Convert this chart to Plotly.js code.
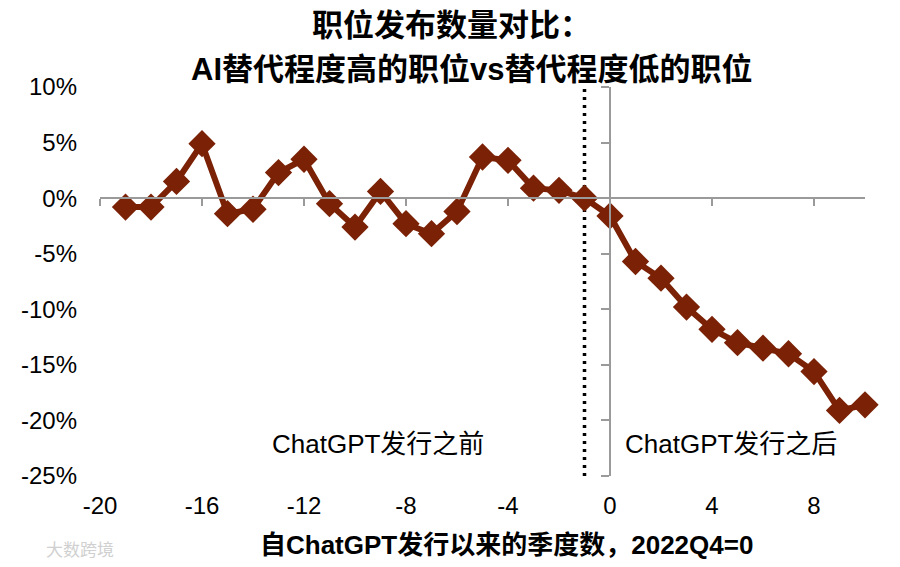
<!DOCTYPE html>
<html>
<head>
<meta charset="utf-8">
<script src="https://cdn.plot.ly/plotly-3.0.1.min.js"></script>
<style>html,body{margin:0;padding:0;background:#fff;}#chart{width:900px;height:567px;}</style>
</head>
<body>
<div id="chart"></div>
<script>
// ---- data ----
const quarters = [-19,-18,-17,-16,-15,-14,-13,-12,-11,-10,-9,-8,-7,-6,-5,-4,-3,-2,-1,0,1,2,3,4,5,6,7,8,9,10];
const postingGap = [-0.8,-0.8,1.5,4.9,-1.4,-1.0,2.3,3.5,-0.5,-2.6,0.6,-2.3,-3.2,-1.2,3.7,3.4,0.9,0.7,0.0,-1.6,-5.7,-7.2,-9.8,-11.8,-13.0,-13.5,-14.0,-15.6,-19.1,-18.6];
const xTicks = [-20,-16,-12,-8,-4,0,4,8];
const xTickLabels = ['-20','-16','-12','-8','-4','0','4','8'];
const yTicks = [-25,-20,-15,-10,-5,0,5,10];
const yTickLabels = ['-25%','-20%','-15%','-10%','-5%','0%','5%','10%'];
const xRange = [-20,10];
const yRange = [-25,10];
const dividerX = [-1,-1];
const dividerY = [-25,10];
const titleLine1 = '职位发布数量对比：';
const titleLine2 = 'AI替代程度高的职位vs替代程度低的职位';
const xTitle = '自ChatGPT发行以来的季度数，2022Q4=0';
const beforeLabel = 'ChatGPT发行之前';
const afterLabel = 'ChatGPT发行之后';
const beforePos = [-9.1, -22.1];
const afterPos = [4.75, -22.1];

const FONT = 'Liberation Sans, Arial, Noto Sans CJK SC, sans-serif';
const LINE = '#7a2106';
const AX = '#9a9a9a';

const traces = [
  {x: dividerX, y: dividerY, mode: 'lines', type: 'scatter',
   line: {color: '#000', width: 3.5, dash: '3px,5px'}, hoverinfo: 'skip', showlegend: false},
  {x: quarters, y: postingGap, mode: 'lines+markers', type: 'scatter',
   line: {color: LINE, width: 6}, marker: {symbol: 'diamond', size: 21, color: LINE},
   cliponaxis: false, showlegend: false}
];

const layout = {
  width: 900, height: 567,
  margin: {l: 100, r: 35, t: 87, b: 91},
  paper_bgcolor: '#fff', plot_bgcolor: '#fff',
  font: {family: FONT, color: '#000', size: 24},
  showlegend: false,
  xaxis: {range: xRange, tickmode: 'array', tickvals: xTicks, ticktext: xTickLabels, showline: false, zeroline: false, showgrid: false,
          ticks: '', ticklabelstandoff: 13, tickfont: {size: 24}},
  yaxis: {range: yRange, tickmode: 'array', tickvals: yTicks, ticktext: yTickLabels, showline: false, zeroline: false, showgrid: false,
          ticks: '', ticklabelstandoff: 22, tickfont: {size: 24}},
  xaxis2: {overlaying: 'x', anchor: 'free', position: (0 - yRange[0]) / (yRange[1] - yRange[0]),
           range: xRange, tickmode: 'array', tickvals: xTicks, showline: true, linecolor: AX, linewidth: 2,
           ticks: 'outside', ticklen: 7, tickwidth: 2, tickcolor: AX, showticklabels: false,
           zeroline: false, showgrid: false},
  yaxis2: {overlaying: 'y', anchor: 'free', side: 'left', position: (0 - xRange[0]) / (xRange[1] - xRange[0]),
           range: yRange, tickmode: 'array', tickvals: yTicks, showline: true, linecolor: AX, linewidth: 2,
           ticks: 'outside', ticklen: 8, tickwidth: 2, tickcolor: AX, showticklabels: false,
           zeroline: false, showgrid: false},
  annotations: [
    {text: titleLine1, xref: 'paper', yref: 'paper', x: 0.459, y: (476 - 26) / 389, xanchor: 'center', yanchor: 'middle',
     showarrow: false, font: {size: 31, family: FONT, weight: 'bold'}},
    {text: titleLine2, xref: 'paper', yref: 'paper', x: 0.486, y: (476 - 70) / 389, xanchor: 'center', yanchor: 'middle',
     showarrow: false, font: {size: 31, family: FONT, weight: 'bold'}},
    {text: xTitle, xref: 'paper', yref: 'paper', x: 0.532, y: (476 - 545) / 389, xanchor: 'center', yanchor: 'middle',
     showarrow: false, font: {size: 26, family: FONT, weight: 'bold'}},
    {text: beforeLabel, x: beforePos[0], y: beforePos[1], xref: 'x', yref: 'y', xanchor: 'center', yanchor: 'middle',
     showarrow: false, font: {size: 26, family: FONT}},
    {text: afterLabel, x: afterPos[0], y: afterPos[1], xref: 'x', yref: 'y', xanchor: 'center', yanchor: 'middle',
     showarrow: false, font: {size: 26, family: FONT}},
    {text: '大数跨境', xref: 'paper', yref: 'paper', x: (80 - 100) / 765, y: (476 - 550) / 389, xanchor: 'center', yanchor: 'middle',
     showarrow: false, font: {size: 17, family: FONT, color: '#d0d0d0'}}
  ]
};

// invisible anchor trace so the overlay axes are bound to data scales
traces.push({x: xRange, y: yRange, xaxis: 'x2', yaxis: 'y2', mode: 'markers', marker: {opacity: 0}, hoverinfo: 'skip', showlegend: false});

Plotly.newPlot('chart', traces, layout, {displayModeBar: false, staticPlot: true});
</script>
</body>
</html>
